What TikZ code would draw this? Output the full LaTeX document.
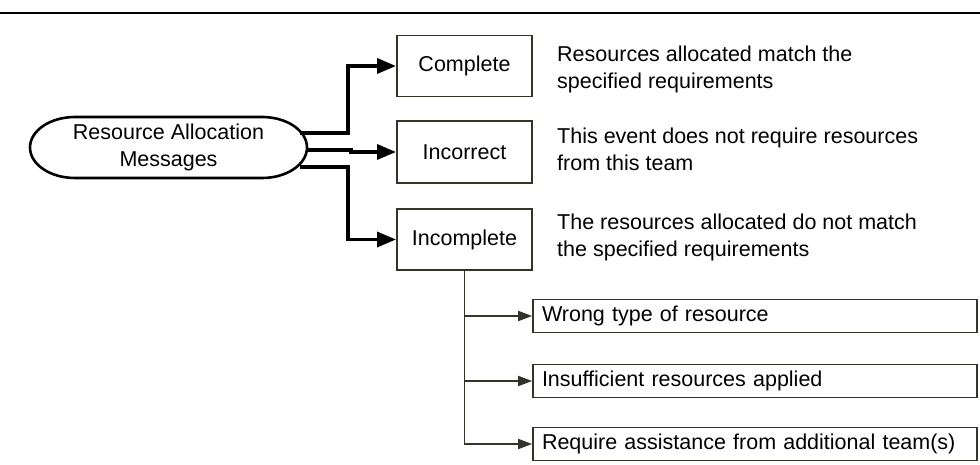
\documentclass[tikz,border=0pt]{standalone}
\usepackage{fontspec}
\setmainfont{Liberation Sans}
\usetikzlibrary{arrows.meta,calc}
\definecolor{edge}{HTML}{33332A}
\begin{document}
\begin{tikzpicture}[x=1pt,y=-1pt,
  txt/.style={font=\fontsize{21.5}{27}\selectfont},
  catbox/.style={draw=edge,line width=1.9pt,txt,minimum width=135pt,inner sep=0pt},
  subbox/.style={draw=edge,line width=1.7pt,txt,minimum width=444pt,minimum height=33pt,
    inner sep=0pt,text width=426pt,align=left},
  desc/.style={txt,anchor=west,inner sep=0pt,align=left},
  mainlink/.style={line width=3.4pt,-{Triangle[length=19pt,width=15pt]}},
  sublink/.style={draw=edge,line width=1.8pt,-{Triangle[length=14pt,width=10pt]}}]
\useasboundingbox (0,0) rectangle (980,465);

% header rule
\draw[line width=1.8pt] (0,13) -- (980,13);

% source terminal with elongated rounded ends
\node[txt,align=center,minimum width=277pt,minimum height=61pt,inner sep=0pt]
  (msg) at (168.5,147.5) {Resource Allocation\\Messages};
\draw[line width=2.6pt] (75,117) -- (262,117)
  arc[start angle=90,end angle=-90,x radius=45,y radius=-30.5] -- (75,178)
  arc[start angle=270,end angle=90,x radius=45,y radius=-30.5] -- cycle;
\coordinate (o1) at (300,133);
\coordinate (o2) at (306,150);
\coordinate (o3) at (300,167);

% categories
\node[catbox,minimum height=61pt] (complete)   at (464.5,66)  {Complete};
\node[catbox,minimum height=62pt] (incorrect)  at (464.5,152) {Incorrect};
\node[catbox,minimum height=61pt] (incomplete) at (464.5,239.5) {Incomplete};

% explanations
\node[desc] (d1) at (557,69)  {Resources allocated match the\\specified requirements};
\node[desc] (d2) at (557,149) {This event does not require resources\\from this team};
\node[desc] (d3) at (557,237) {The resources allocated do not match\\the specified requirements};

% sub-cases of an incomplete allocation
\node[subbox] (wrong) at (755,316) {Wrong type of resource};
\node[subbox] (insuf) at (755,381) {Insufficient resources applied};
\node[subbox] (assist) at (755,444) {Require assistance from additional team(s)};

% connectors
\draw[mainlink] (o1) -- (348,133) |- (complete.west);
\draw[mainlink] (o2) -- (351,150) -- (351,152) -- (incorrect.west);
\draw[mainlink] (o3) -- (348,167) |- (incomplete.west);

\draw[sublink] (incomplete.south) |- (wrong.west);
\draw[sublink] (incomplete.south) |- (insuf.west);
\draw[sublink] (incomplete.south) |- (assist.west);
\end{tikzpicture}
\end{document}
